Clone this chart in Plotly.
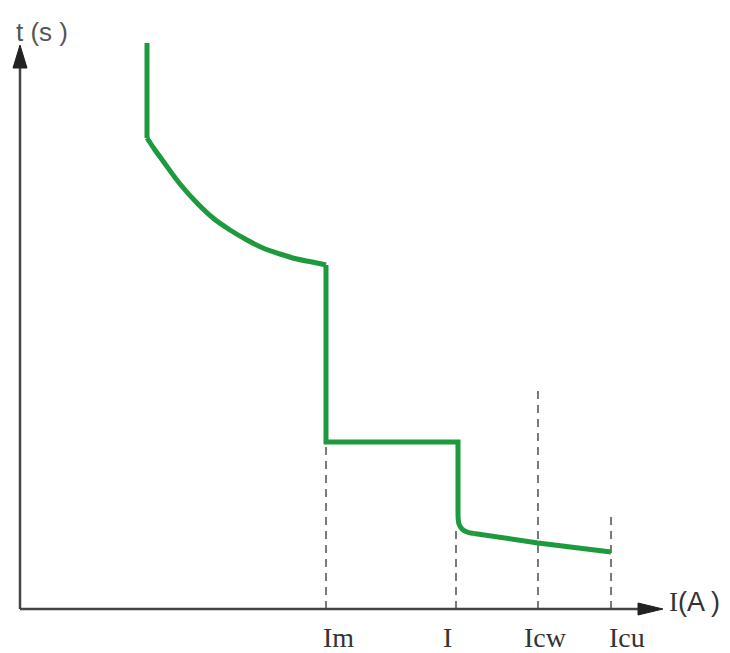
import plotly.graph_objects as go

# Trip curve (schematic units: current on x, time on y), origin at the axes' corner
# long-time part: vertical start then inverse-time curve
lt_i = [127, 127]
lt_t = [566, 471]
curve_i = [127, 135, 143, 160, 177, 193, 210, 227, 243, 260, 277, 292, 306]
curve_t = [471, 459, 448, 425, 406, 391, 379, 369, 361, 355, 350, 347, 344]
# short-time plateau
st_i = [306, 306, 438, 438]
st_t = [344, 167, 167, 95]
# instantaneous knee and tail
knee_i = [438, 439, 442, 447, 454]
knee_t = [95, 85, 80, 77, 75.5]
tail_i = [454, 518, 591]
tail_t = [75.5, 66, 57]

# Reference currents (dashed markers) and their heights
ref_labels = ["Im", "I", "Icw", "Icu"]
ref_i = [306, 436, 518, 591]
ref_top = [167, 79, 224, 96]
label_i = [318, 427, 525, 607]

x_title = "I(A )"
y_title = "t (s )"

X_MIN, X_MAX = -12, 710
Y_MIN, Y_MAX = -44, 601
AXIS_END_X = 643
AXIS_END_Y = 564

GREEN = "#1e9a3e"

fig = go.Figure()

# dashed reference lines
for xi, top in zip(ref_i, ref_top):
    fig.add_trace(go.Scatter(x=[xi, xi], y=[0, top], mode="lines",
                             line=dict(color="#333333", width=1.3, dash="8px,6px"),
                             hoverinfo="skip", showlegend=False))

# trip curve pieces
for xs, ys, shp in [(lt_i, lt_t, "linear"), (curve_i, curve_t, "spline"),
                    (st_i, st_t, "linear"), (knee_i, knee_t, "spline"),
                    (tail_i, tail_t, "linear")]:
    fig.add_trace(go.Scatter(x=xs, y=ys, mode="lines",
                             line=dict(color=GREEN, width=5, shape=shp),
                             hoverinfo="skip", showlegend=False))

shapes = []
# x axis line + arrowhead
shapes.append(dict(type="line", x0=0, y0=0, x1=AXIS_END_X - 20, y1=0,
                   line=dict(color="#444444", width=2.5)))
shapes.append(dict(type="path",
                   path=f"M {AXIS_END_X-25},6 L {AXIS_END_X},0 L {AXIS_END_X-25},-6 Z",
                   fillcolor="#222222", line=dict(color="#222222", width=1)))
# y axis line + arrowhead
shapes.append(dict(type="line", x0=0, y0=0, x1=0, y1=AXIS_END_Y - 20,
                   line=dict(color="#444444", width=2.5)))
shapes.append(dict(type="path",
                   path=f"M -7,{AXIS_END_Y-23} L 0,{AXIS_END_Y} L 7,{AXIS_END_Y-23} Z",
                   fillcolor="#222222", line=dict(color="#222222", width=1)))

annotations = []
for lab, xi in zip(ref_labels, label_i):
    annotations.append(dict(x=xi, y=-28, text=lab, showarrow=False,
                            xanchor="center", yanchor="middle",
                            font=dict(family="Liberation Serif", size=28, color="#333333")))
annotations.append(dict(x=AXIS_END_X + 4, y=7, xanchor="left", yanchor="middle",
                        text="<span style='font-family:Liberation Serif'>I</span>(A )",
                        showarrow=False,
                        font=dict(family="Liberation Sans", size=27, color="#333333")))
annotations.append(dict(x=-6, y=577, xanchor="left", yanchor="middle", text=y_title,
                        showarrow=False,
                        font=dict(family="Liberation Sans", size=26, color="#555555")))

fig.update_layout(
    width=722, height=645,
    margin=dict(l=0, r=0, t=0, b=0),
    paper_bgcolor="white", plot_bgcolor="white",
    xaxis=dict(range=[X_MIN, X_MAX], visible=False, fixedrange=True),
    yaxis=dict(range=[Y_MIN, Y_MAX], visible=False, fixedrange=True),
    shapes=shapes, annotations=annotations,
    showlegend=False,
)

fig.write_html("out.html")
